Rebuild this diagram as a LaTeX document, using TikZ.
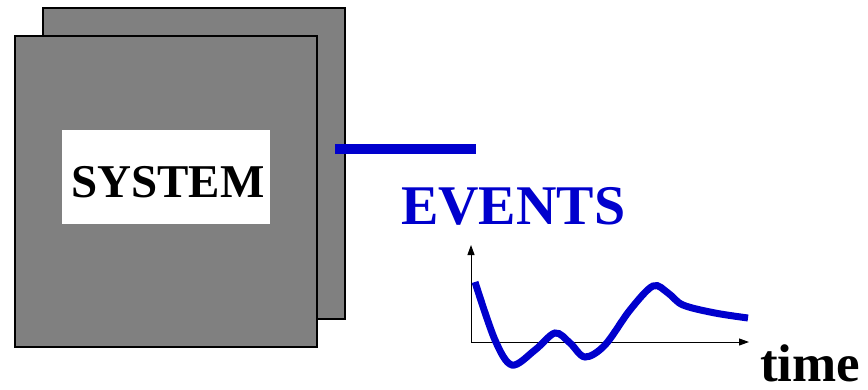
\documentclass[tikz,border=0pt]{standalone}
\usepackage{fontspec}
\setmainfont{Liberation Serif}
\usetikzlibrary{arrows.meta}
\definecolor{boxgray}{RGB}{128,128,128}
\definecolor{evblue}{RGB}{0,0,205}
\begin{document}
\begin{tikzpicture}[x=1pt,y=-1pt,
  panel/.style={draw=black,line width=1.2pt,fill=boxgray,minimum width=302pt,minimum height=311pt,inner sep=0pt},
  label/.style={fill=white,minimum width=208pt,minimum height=94pt,inner sep=0pt},
  bigtext/.style={inner sep=0pt,anchor=base west,font=\bfseries},
  axis/.style={line width=1pt,-{Triangle[length=10pt,width=7pt]}},
  signal/.style={evblue,line width=7pt}]
\useasboundingbox (0,0) rectangle (868,389);
\node[panel] (back) at (194,163.5) {};
\node[panel] (front) at (166,191.5) {};
\node[label] (lab) at (166,177) {};
\node[bigtext,font=\fontsize{47}{47}\selectfont\bfseries] (sys) at (71,197) {SYSTEM};
\coordinate (ls) at (335,149);
\coordinate (le) at (476,149);
\draw[evblue,line width=9.5pt] (ls) -- (le);
\node[bigtext,text=evblue,font=\fontsize{56}{56}\selectfont\bfseries] (ev) at (401,224) {EVENTS};
\coordinate (o) at (471,342);
\coordinate (yt) at (471,245);
\coordinate (xt) at (749,342);
\draw[axis] (o) -- (yt);
\draw[axis] (o) -- (xt);
\draw[signal] plot[smooth,tension=0.55] coordinates {(475,282) (495,340) (512,365) (535,350) (555,333) (570,343) (585,357) (605,345) (630,310) (653,286) (668,293) (683,305) (715,313) (748,318)};
\node[bigtext,font=\fontsize{53}{53}\selectfont\bfseries] (tm) at (760,381) {time};
\end{tikzpicture}
\end{document}
